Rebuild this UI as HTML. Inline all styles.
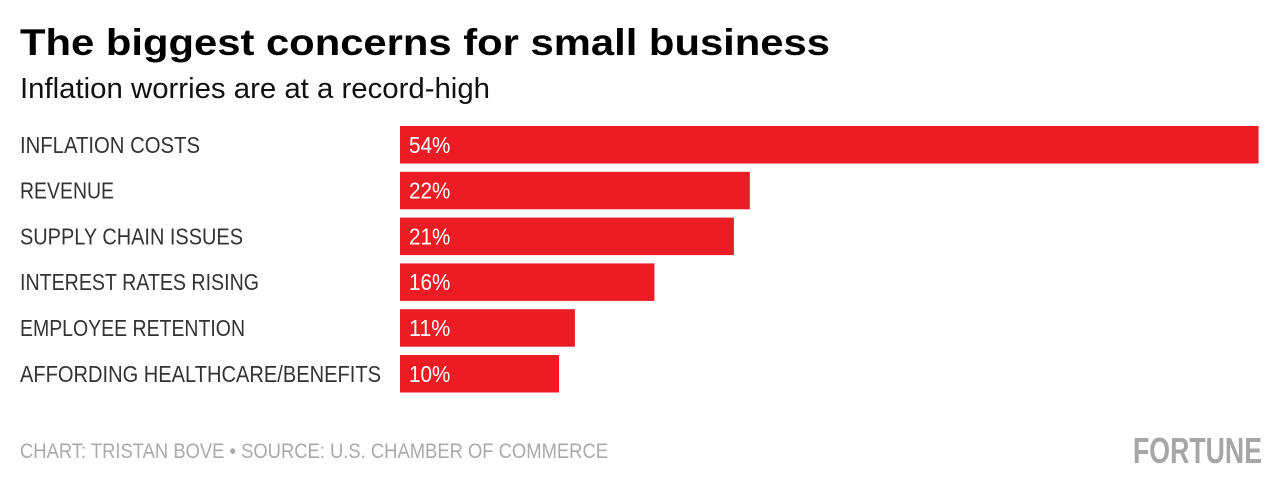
<!DOCTYPE html>
<html><head><meta charset="utf-8"><style>
html,body{margin:0;padding:0;background:#fff;}
svg{display:block;}
</style></head><body>
<svg id="chart" width="1280" height="489" viewBox="0 0 1280 489" xmlns="http://www.w3.org/2000/svg">
<text x="20" y="55" font-family="Liberation Sans, sans-serif" font-weight="bold" font-size="37" fill="#000" textLength="810" lengthAdjust="spacingAndGlyphs">The biggest concerns for small business</text>
<text x="20" y="98" font-family="Liberation Sans Narrow, Liberation Sans, sans-serif" font-size="29" fill="#111" textLength="470" lengthAdjust="spacingAndGlyphs">Inflation worries are at a record-high</text>
<g id="bars"></g>
<text x="20" y="458" font-family="Liberation Sans Narrow, Liberation Sans, sans-serif" font-size="21" fill="#aaa" textLength="588" lengthAdjust="spacingAndGlyphs">CHART: TRISTAN BOVE • SOURCE: U.S. CHAMBER OF COMMERCE</text>
<text x="1133" y="463" font-family="Liberation Sans Narrow, Liberation Sans, sans-serif" font-weight="bold" font-size="36" fill="#a6a6a6" textLength="129" lengthAdjust="spacingAndGlyphs">FORTUNE</text>
</svg>
<script>
const categories = ["INFLATION COSTS","REVENUE","SUPPLY CHAIN ISSUES","INTEREST RATES RISING","EMPLOYEE RETENTION","AFFORDING HEALTHCARE/BENEFITS"];
const values = [54,22,21,16,11,10];
const labelWidths = [180,94,223,239,225,361];

const NS = "http://www.w3.org/2000/svg";
const x0 = 400, pxPer = 15.9;
function xScale(v){ return x0 + v*pxPer; }
function yScale(i){ return 126 + i*45.8; }
const barH = 37.5;
const g = document.getElementById('bars');
categories.forEach((c,i)=>{
  const y = yScale(i);
  const lab = document.createElementNS(NS,'text');
  
  
  lab.setAttribute('x',20); lab.setAttribute('y',y+barH/2+8);
  lab.setAttribute('font-family','Liberation Sans Narrow, Liberation Sans, sans-serif');
  lab.setAttribute('font-size','23'); lab.setAttribute('fill','#333');
  lab.setAttribute('textLength',labelWidths[i]); lab.setAttribute('lengthAdjust','spacingAndGlyphs');
  lab.textContent = c; g.appendChild(lab);
  const r = document.createElementNS(NS,'rect');
  
  
  r.setAttribute('x',x0); r.setAttribute('y',y);
  r.setAttribute('width',xScale(values[i])-x0); r.setAttribute('height',barH);
  r.setAttribute('fill','#ed1c24'); g.appendChild(r);
  const t = document.createElementNS(NS,'text');
  
  
  const s = values[i] + '%';
  t.setAttribute('x',409); t.setAttribute('y',y+barH/2+8);
  t.setAttribute('font-family','Liberation Sans Narrow, Liberation Sans, sans-serif');
  t.setAttribute('font-size','23'); t.setAttribute('fill','#fff');
  t.setAttribute('textLength', s.length*13.8); t.setAttribute('lengthAdjust','spacingAndGlyphs');
  t.textContent = s; g.appendChild(t);
});
</script>
</body></html>
